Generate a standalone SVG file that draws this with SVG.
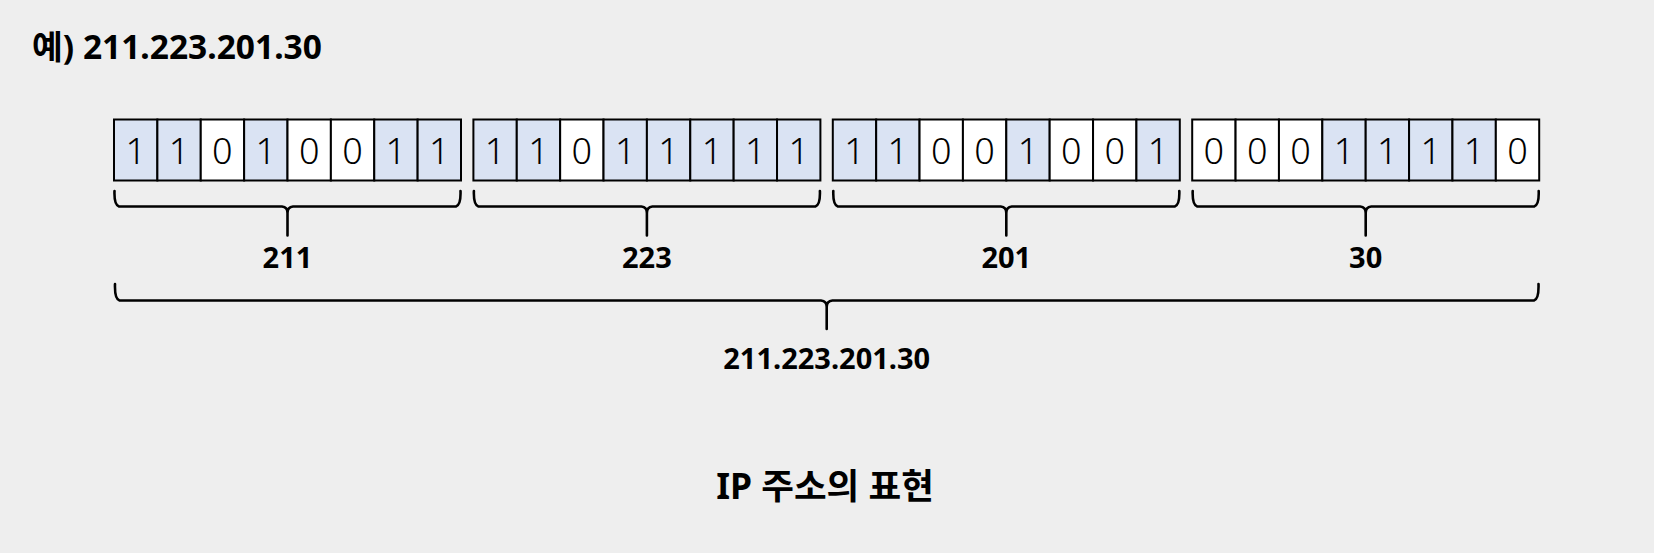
<svg xmlns="http://www.w3.org/2000/svg" width="1654" height="553" viewBox="0 0 1654 553">
<style>
text{font-family:"Noto Sans","Noto Sans CJK KR",sans-serif;fill:#000}
.c1{fill:#dae3f3;stroke:#000;stroke-width:2}
.c0{fill:#fff;stroke:#000;stroke-width:2}
.bit{font-size:36px;font-weight:300;text-anchor:middle}
.lbl{font-size:29px;font-weight:bold;text-anchor:middle}
.br{fill:none;stroke:#000;stroke-width:2.6;stroke-linejoin:round;stroke-linecap:round}
</style>
<defs>
<rect id="cell" width="43.375" height="61"/>
</defs>
<rect width="1654" height="553" fill="#eeeeee"/>
<g id="header"><text x="32" y="59" style="font-size:33.5px;font-weight:bold">예) 211.223.201.30</text></g>
<g id="byte1" transform="translate(114,119.5)">
<use href="#cell" x="0" class="c1"/><use href="#cell" x="43.375" class="c1"/><use href="#cell" x="86.75" class="c0"/><use href="#cell" x="130.125" class="c1"/><use href="#cell" x="173.5" class="c0"/><use href="#cell" x="216.875" class="c0"/><use href="#cell" x="260.25" class="c1"/><use href="#cell" x="303.625" class="c1"/>
<g class="bit"><text x="21.7" y="44">1</text><text x="65.1" y="44">1</text><text x="108.4" y="44">0</text><text x="151.8" y="44">1</text><text x="195.2" y="44">0</text><text x="238.6" y="44">0</text><text x="281.9" y="44">1</text><text x="325.3" y="44">1</text></g>
</g>
<g id="byte2" transform="translate(473.4,119.5)">
<use href="#cell" x="0" class="c1"/><use href="#cell" x="43.375" class="c1"/><use href="#cell" x="86.75" class="c0"/><use href="#cell" x="130.125" class="c1"/><use href="#cell" x="173.5" class="c1"/><use href="#cell" x="216.875" class="c1"/><use href="#cell" x="260.25" class="c1"/><use href="#cell" x="303.625" class="c1"/>
<g class="bit"><text x="21.7" y="44">1</text><text x="65.1" y="44">1</text><text x="108.4" y="44">0</text><text x="151.8" y="44">1</text><text x="195.2" y="44">1</text><text x="238.6" y="44">1</text><text x="281.9" y="44">1</text><text x="325.3" y="44">1</text></g>
</g>
<g id="byte3" transform="translate(832.8,119.5)">
<use href="#cell" x="0" class="c1"/><use href="#cell" x="43.375" class="c1"/><use href="#cell" x="86.75" class="c0"/><use href="#cell" x="130.125" class="c0"/><use href="#cell" x="173.5" class="c1"/><use href="#cell" x="216.875" class="c0"/><use href="#cell" x="260.25" class="c0"/><use href="#cell" x="303.625" class="c1"/>
<g class="bit"><text x="21.7" y="44">1</text><text x="65.1" y="44">1</text><text x="108.4" y="44">0</text><text x="151.8" y="44">0</text><text x="195.2" y="44">1</text><text x="238.6" y="44">0</text><text x="281.9" y="44">0</text><text x="325.3" y="44">1</text></g>
</g>
<g id="byte4" transform="translate(1192.2,119.5)">
<use href="#cell" x="0" class="c0"/><use href="#cell" x="43.375" class="c0"/><use href="#cell" x="86.75" class="c0"/><use href="#cell" x="130.125" class="c1"/><use href="#cell" x="173.5" class="c1"/><use href="#cell" x="216.875" class="c1"/><use href="#cell" x="260.25" class="c1"/><use href="#cell" x="303.625" class="c0"/>
<g class="bit"><text x="21.7" y="44">0</text><text x="65.1" y="44">0</text><text x="108.4" y="44">0</text><text x="151.8" y="44">1</text><text x="195.2" y="44">1</text><text x="238.6" y="44">1</text><text x="281.9" y="44">1</text><text x="325.3" y="44">0</text></g>
</g>
<g id="connectors" class="br">
<path d="M114.5,191 Q114,205 119,206.5 L282,206.5 Q287.5,207 287.5,213 L287.5,235.5 M287.5,213 Q287.5,207 293,206.5 L456,206.5 Q461,205 460.5,191"/>
<path d="M473.9,191 Q473.4,205 478.4,206.5 L641.4,206.5 Q646.9,207 646.9,213 L646.9,235.5 M646.9,213 Q646.9,207 652.4,206.5 L815.4,206.5 Q820.4,205 819.9,191"/>
<path d="M833.3,191 Q832.8,205 837.8,206.5 L1000.8,206.5 Q1006.3,207 1006.3,213 L1006.3,235.5 M1006.3,213 Q1006.3,207 1011.8,206.5 L1174.8,206.5 Q1179.8,205 1179.3,191"/>
<path d="M1192.7,191 Q1192.2,205 1197.2,206.5 L1360.2,206.5 Q1365.7,207 1365.7,213 L1365.7,235.5 M1365.7,213 Q1365.7,207 1371.2,206.5 L1534.2,206.5 Q1539.2,205 1538.7,191"/>
<path d="M115,284 Q114.5,299 119.5,300.5 L821,300.5 Q826.7,301 826.7,307 L826.7,329 M826.7,307 Q826.7,301 832.4,300.5 L1534,300.5 Q1539,299 1538.5,284"/>
</g>
<g id="label-211"><text class="lbl" x="287.5" y="268">211</text></g>
<g id="label-223"><text class="lbl" x="646.9" y="268">223</text></g>
<g id="label-201"><text class="lbl" x="1006.3" y="268">201</text></g>
<g id="label-30"><text class="lbl" x="1365.7" y="268">30</text></g>
<g id="label-full"><text class="lbl" x="826.7" y="369">211.223.201.30</text></g>
<g id="title"><text x="825" y="499" style="font-size:35.5px;font-weight:bold;text-anchor:middle">IP 주소의 표현</text></g>
</svg>
